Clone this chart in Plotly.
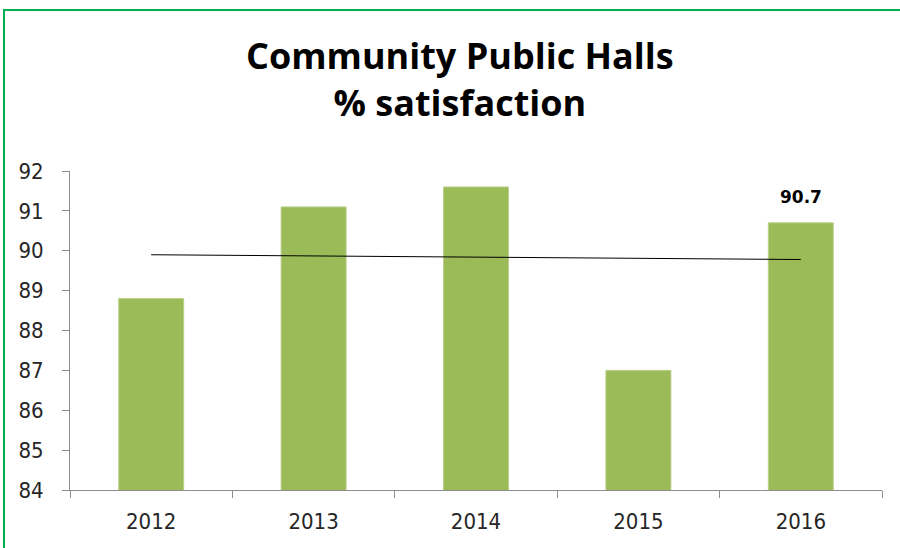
import numpy as np
import plotly.graph_objects as go

years = ["2012", "2013", "2014", "2015", "2016"]
satisfaction = [88.8, 91.1, 91.6, 87.0, 90.7]
y_ticks = [84, 85, 86, 87, 88, 89, 90, 91, 92]
labelled_year = "2016"

W, H = 900, 548
ML, MR, MT, MB = 70, 18, 171, 58

# linear trend through the yearly values
idx = np.arange(len(years))
slope, intercept = np.polyfit(idx, satisfaction, 1)
trend = intercept + slope * idx

fig = go.Figure()
fig.add_trace(go.Bar(
    x=years, y=satisfaction,
    marker=dict(color="#9BBB59", line=dict(color="#B9CF8A", width=1)),
    width=0.4, hoverinfo="x+y",
))
fig.add_trace(go.Scatter(
    x=years, y=trend, mode="lines",
    line=dict(color="#000000", width=1), hoverinfo="skip",
))

axis_grey = "#8C8C8C"
tick_font = dict(family="Liberation Sans Narrow, Arial Narrow, DejaVu Sans Condensed, sans-serif",
                 size=22, color="#262626")

fig.update_layout(
    width=W, height=H,
    margin=dict(l=ML, r=MR, t=MT, b=MB),
    paper_bgcolor="white", plot_bgcolor="white",
    showlegend=False,
    xaxis=dict(
        type="category", range=[-0.5, len(years) - 0.5], automargin=False,
        showline=True, linecolor=axis_grey, linewidth=1,
        ticks="outside", tickson="boundaries", ticklen=7, tickcolor=axis_grey,
        showgrid=False, tickfont=tick_font, ticklabelstandoff=12, tickangle=0,
    ),
    yaxis=dict(
        range=[84, 92], tickvals=y_ticks, showline=True, linecolor=axis_grey,
        linewidth=1, ticks="outside", ticklen=7, tickcolor=axis_grey, automargin=False,
        showgrid=False, zeroline=False, tickfont=tick_font, ticklabelstandoff=14,
    ),
)

# chart title
fig.add_annotation(
    text="<b>Community Public Halls<br>% satisfaction</b>",
    xref="paper", yref="paper",
    x=(460 - ML) / (W - ML - MR), y=1 + (MT - 29) / (H - MT - MB),
    xanchor="center", yanchor="top", showarrow=False,
    font=dict(family="Open Sans, sans-serif", size=36, color="#000000"),
    align="center",
)
# value label for the highlighted year
li = years.index(labelled_year)
v = satisfaction[li]
fig.add_annotation(
    x=li, y=v, text=f"<b>{v:.1f}</b>",
    showarrow=False, yanchor="bottom", yshift=14,
    font=dict(family="DejaVu Sans, sans-serif", size=17, color="#000000"),
)

# green frame round the chart
pw, ph = W - ML - MR, H - MT - MB
def px_x(p):
    return (p - ML) / pw
def px_y(p):
    return (H - MB - p) / ph
fig.add_shape(
    type="rect", xref="paper", yref="paper",
    x0=px_x(4), x1=px_x(905), y0=px_y(10), y1=px_y(560),
    line=dict(color="#00B050", width=2), fillcolor="rgba(0,0,0,0)", layer="above",
)

fig.write_html("out.html")
